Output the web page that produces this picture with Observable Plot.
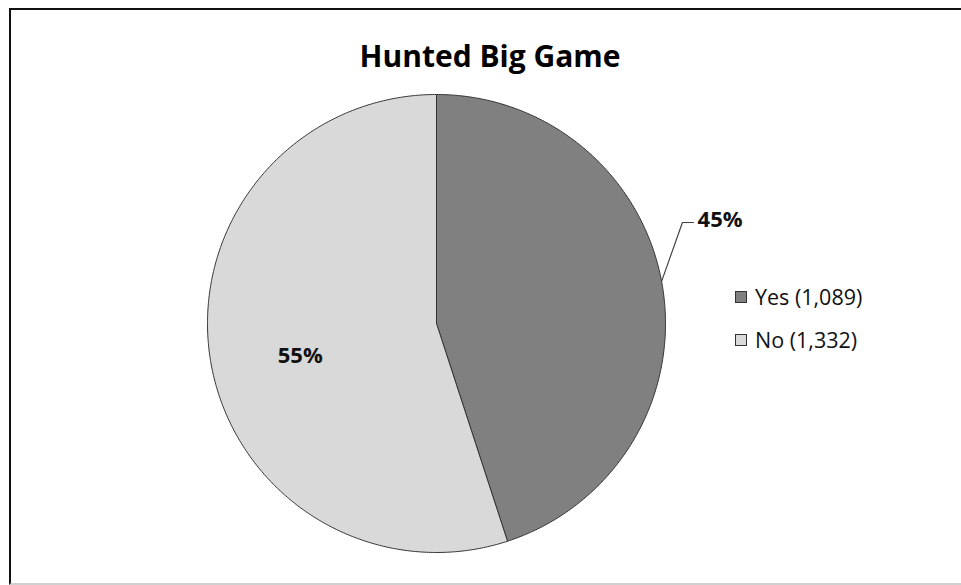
<!DOCTYPE html>
<html>
<head>
<meta charset="utf-8">
<script src="https://cdn.jsdelivr.net/npm/d3@7"></script>
<script src="https://cdn.jsdelivr.net/npm/@observablehq/plot@0.6"></script>
<style>
  html, body { margin: 0; padding: 0; background: #fff; }
  body { width: 961px; height: 585px; position: relative; overflow: hidden; font-family: "Open Sans", sans-serif; }
  #frame { position: absolute; left: 9px; top: 8px; width: 980px; height: 573px;
           border-left: 2px solid #111; border-top: 2px solid #111; border-bottom: 2px solid #d0d0d0; }
  #title { position: absolute; left: 0; top: 35px; width: 980px; text-align: center;
           font: bold 30px "Open Sans", sans-serif; color: #000; }
  #chart { position: absolute; left: 0; top: 0; }
  #legend { position: absolute; left: 735px; top: 275px; font: 21.5px "Open Sans", sans-serif; color: #111; }
  .li { display: flex; align-items: center; height: 43px; }
  .sw { width: 10px; height: 10px; border: 1px solid #333; margin-right: 8px; }
</style>
</head>
<body>
<div id="frame"></div>
<div id="title">Hunted Big Game</div>
<div id="chart"></div>
<div id="legend"></div>
<script>
// ---- data ----
const categories = ["Yes", "No"];
const counts = [1089, 1332];
const colors = ["#808080", "#d9d9d9"];
const percentLabels = ["45%", "55%"];
// label placement, normalized to pie radius (x right, y up from centre)
const labelX = [1.14, -0.595];
const labelY = [0.454, -0.14];
const labelAnchor = ["start", "middle"];
const leaderFrom = [79.4, null];          // angle (deg clockwise from top) where leader touches pie edge
const leaderBend = [[1.074, 0.441], null]; // normalized bend point
const leaderEnd = [[1.122, 0.441], null];

// ---- geometry from data ----
const pie = d3.pie().sort(null).value(d => d.count)(
  categories.map((c, i) => ({cat: c, count: counts[i]}))
);
const polyPts = [];
pie.forEach(p => {
  const n = Math.max(4, Math.ceil((p.endAngle - p.startAngle) * 120));
  polyPts.push({cat: p.data.cat, x: 0, y: 0});
  for (let k = 0; k <= n; k++) {
    const a = p.startAngle + (p.endAngle - p.startAngle) * k / n;
    polyPts.push({cat: p.data.cat, x: Math.sin(a), y: Math.cos(a)});
  }
  polyPts.push({cat: p.data.cat, x: 0, y: 0});
});

const labelData = categories.map((c, i) => ({cat: c, text: percentLabels[i], x: labelX[i], y: labelY[i], anchor: labelAnchor[i]}));

const leaderPts = [];
categories.forEach((c, i) => {
  if (leaderFrom[i] == null) return;
  const a = leaderFrom[i] * Math.PI / 180;
  leaderPts.push({cat: c, x: Math.sin(a), y: Math.cos(a)});
  leaderPts.push({cat: c, x: leaderBend[i][0], y: leaderBend[i][1]});
  leaderPts.push({cat: c, x: leaderEnd[i][0], y: leaderEnd[i][1]});
});

const R = 229, cx = 436, cy = 323;
const chart = Plot.plot({
  width: 961,
  height: 585,
  margin: 0,
  x: {domain: [-1, 1], range: [cx - R, cx + R], axis: null},
  y: {domain: [-1, 1], range: [cy + R, cy - R], axis: null},
  color: {domain: categories, range: colors},
  marks: [
    Plot.line(polyPts, {x: "x", y: "y", z: "cat", fill: "cat", stroke: "#333", strokeWidth: 1, curve: "linear"}),
    Plot.line(leaderPts, {x: "x", y: "y", z: "cat", stroke: "#444", strokeWidth: 1.2}),
    Plot.text(labelData.filter(d => d.anchor === "start"), {x: "x", y: "y", text: "text", fontSize: 22, fontWeight: "bold", fill: "#111",
      fontFamily: "'Open Sans', sans-serif", textAnchor: "start"}),
    Plot.text(labelData.filter(d => d.anchor === "middle"), {x: "x", y: "y", text: "text", fontSize: 22, fontWeight: "bold", fill: "#111",
      fontFamily: "'Open Sans', sans-serif", textAnchor: "middle"})
  ]
});
document.getElementById("chart").appendChild(chart);

const leg = document.getElementById("legend");
categories.forEach((c, i) => {
  const row = document.createElement("div");
  row.className = "li";
  const sw = document.createElement("span");
  sw.className = "sw";
  sw.style.background = colors[i];
  const t = document.createElement("span");
  t.textContent = `${c} (${d3.format(",")(counts[i])})`;
  row.appendChild(sw); row.appendChild(t);
  leg.appendChild(row);
});
</script>
</body>
</html>
